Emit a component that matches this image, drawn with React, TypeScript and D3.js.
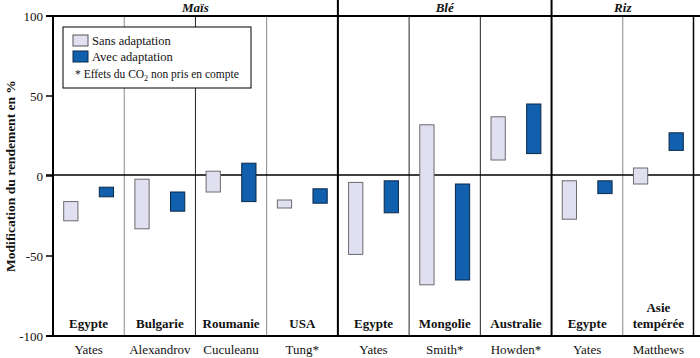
import React from 'react';
import * as d3 from 'd3';

const crops = ['Maïs', 'Maïs', 'Maïs', 'Maïs', 'Blé', 'Blé', 'Blé', 'Riz', 'Riz'];
const countries = ['Egypte', 'Bulgarie', 'Roumanie', 'USA', 'Egypte', 'Mongolie', 'Australie', 'Egypte', 'Asie|tempérée'];
const authors = ['Yates', 'Alexandrov', 'Cuculeanu', 'Tung*', 'Yates', 'Smith*', 'Howden*', 'Yates', 'Matthews'];

// ranges [low, high] in %
const sansLow = [-28, -33, -10, -20, -49, -68, 10, -27, -5];
const sansHigh = [-16, -2, 3, -15, -4, 32, 37, -3, 5];
const avecLow = [-13, -22, -16, -17, -23, -65, 14, -11, 16];
const avecHigh = [-7, -10, 8, -8, -3, -5, 45, -3, 27];

const yTicks = [100, 50, 0, -50, -100];
const seriesKeys = ['sans', 'avec'];

const FONT = 'Liberation Serif, DejaVu Serif, serif';

export default function App() {
  const width = 700, height = 358;
  const margin = { top: 16, right: 6, bottom: 22, left: 53 };
  const innerRight = width - margin.right;
  const innerBottom = height - margin.bottom;

  const idx = d3.range(countries.length);
  const x = d3.scaleBand<number>().domain(idx).range([margin.left, innerRight]);
  const sub = d3.scaleBand<string>().domain(seriesKeys).range([0, x.bandwidth()])
    .paddingInner(0.6).paddingOuter(0.3);
  const y = d3.scaleLinear().domain([-100, 100]).range([innerBottom, margin.top]);

  // groups for the header row
  const groups = Array.from(d3.group(idx, (i) => crops[i]), ([name, ids]) => ({
    name, first: ids[0], last: ids[ids.length - 1]
  }));
  const groupStarts = new Set(groups.map((g) => g.first));
  const greyDividers = new Set([1, 3, 8]);

  return (
    <svg width={width} height={height} fontFamily={FONT}
      style={{ position: 'absolute', left: 0, top: 0, background: '#fff' }}>
      {/* panel dividers */}
      {idx.slice(1).map((i) => {
        const thick = groupStarts.has(i);
        return (
          <line key={`div-${i}`} x1={x(i)} x2={x(i)}
            y1={thick ? 0 : margin.top} y2={innerBottom}
            stroke={thick ? '#000' : greyDividers.has(i) ? '#888' : '#222'}
            strokeWidth={thick ? 2 : 1} />
        );
      })}
      {/* right border */}
      <line x1={innerRight - 0.5} x2={innerRight - 0.5} y1={margin.top} y2={innerBottom} stroke="#000" strokeWidth={1.5} />

      {/* zero line */}
      <line x1={margin.left - 7} x2={width} y1={y(0) - 1} y2={y(0) - 1} stroke="#000" strokeWidth={1.5} />

      {/* bars */}
      {idx.map((i) => (
        <g key={`bars-${i}`} transform={`translate(${x(i)},0)`}>
          <rect x={sub('sans')} width={sub.bandwidth()}
            y={y(sansHigh[i])} height={y(sansLow[i]) - y(sansHigh[i])}
            fill="#e1e0f0" stroke="#6a6a70" strokeWidth={1} />
          <rect x={sub('avec')} width={sub.bandwidth()}
            y={y(avecHigh[i])} height={y(avecLow[i]) - y(avecHigh[i])}
            fill="#1060ae" stroke="#0b2748" strokeWidth={1} />
        </g>
      ))}

      {/* frame: top, bottom, left axis */}
      <line x1={margin.left - 7} x2={width} y1={margin.top} y2={margin.top} stroke="#000" strokeWidth={2} />
      <line x1={margin.left - 7} x2={width} y1={innerBottom} y2={innerBottom} stroke="#000" strokeWidth={2} />
      <line x1={margin.left} x2={margin.left} y1={margin.top} y2={innerBottom} stroke="#000" strokeWidth={2} />

      {/* y ticks */}
      {yTicks.map((t) => (
        <g key={`t-${t}`}>
          <line x1={margin.left - 7} x2={margin.left} y1={y(t)} y2={y(t)} stroke="#000" strokeWidth={1.5} />
          <text x={margin.left - 10} y={y(t)} dy="0.35em" textAnchor="end" fontSize={13} fill="#111">{t}</text>
        </g>
      ))}

      {/* y title */}
      <text transform={`translate(15,${y(0)}) rotate(-90)`} textAnchor="middle" fontSize={13.5}
        fontWeight="bold" fill="#111">Modification du rendement en %</text>

      {/* group headers */}
      {groups.map((g) => (
        <text key={`g-${g.name}`} x={((x(g.first) ?? 0) + (x(g.last) ?? 0) + x.bandwidth()) / 2} y={12}
          textAnchor="middle" fontSize={13} fontWeight="bold" fontStyle="italic" fill="#111">{g.name}</text>
      ))}

      {/* country labels and authors */}
      {idx.map((i) => {
        const cx = (x(i) ?? 0) + x.bandwidth() / 2;
        const parts = countries[i].split('|');
        return (
          <g key={`lab-${i}`}>
            {parts.map((p, k) => (
              <text key={k} x={cx} y={innerBottom - 8 - (parts.length - 1 - k) * 16}
                textAnchor="middle" fontSize={13} fontWeight="bold" fill="#111">{p}</text>
            ))}
            <text x={cx} y={height - 4} textAnchor="middle" fontSize={13} fill="#111">{authors[i]}</text>
          </g>
        );
      })}

      {/* legend */}
      <g transform="translate(63,27)">
        <rect width={188} height={61} fill="#fff" stroke="#000" strokeWidth={1} />
        <rect x={10} y={8} width={15} height={11} fill="#e1e0f0" stroke="#555" />
        <text x={29} y={18} fontSize={12.5} fill="#111">Sans adaptation</text>
        <rect x={10} y={24} width={15} height={11} fill="#1060ae" stroke="#0b2748" />
        <text x={29} y={34} fontSize={12.5} fill="#111">Avec adaptation</text>
        <text x={12} y={51} fontSize={11.5} fill="#111">
          *  Effets du CO<tspan dy={3} fontSize={8}>2</tspan><tspan dy={-3}> non pris en compte</tspan>
        </text>
      </g>
    </svg>
  );
}
